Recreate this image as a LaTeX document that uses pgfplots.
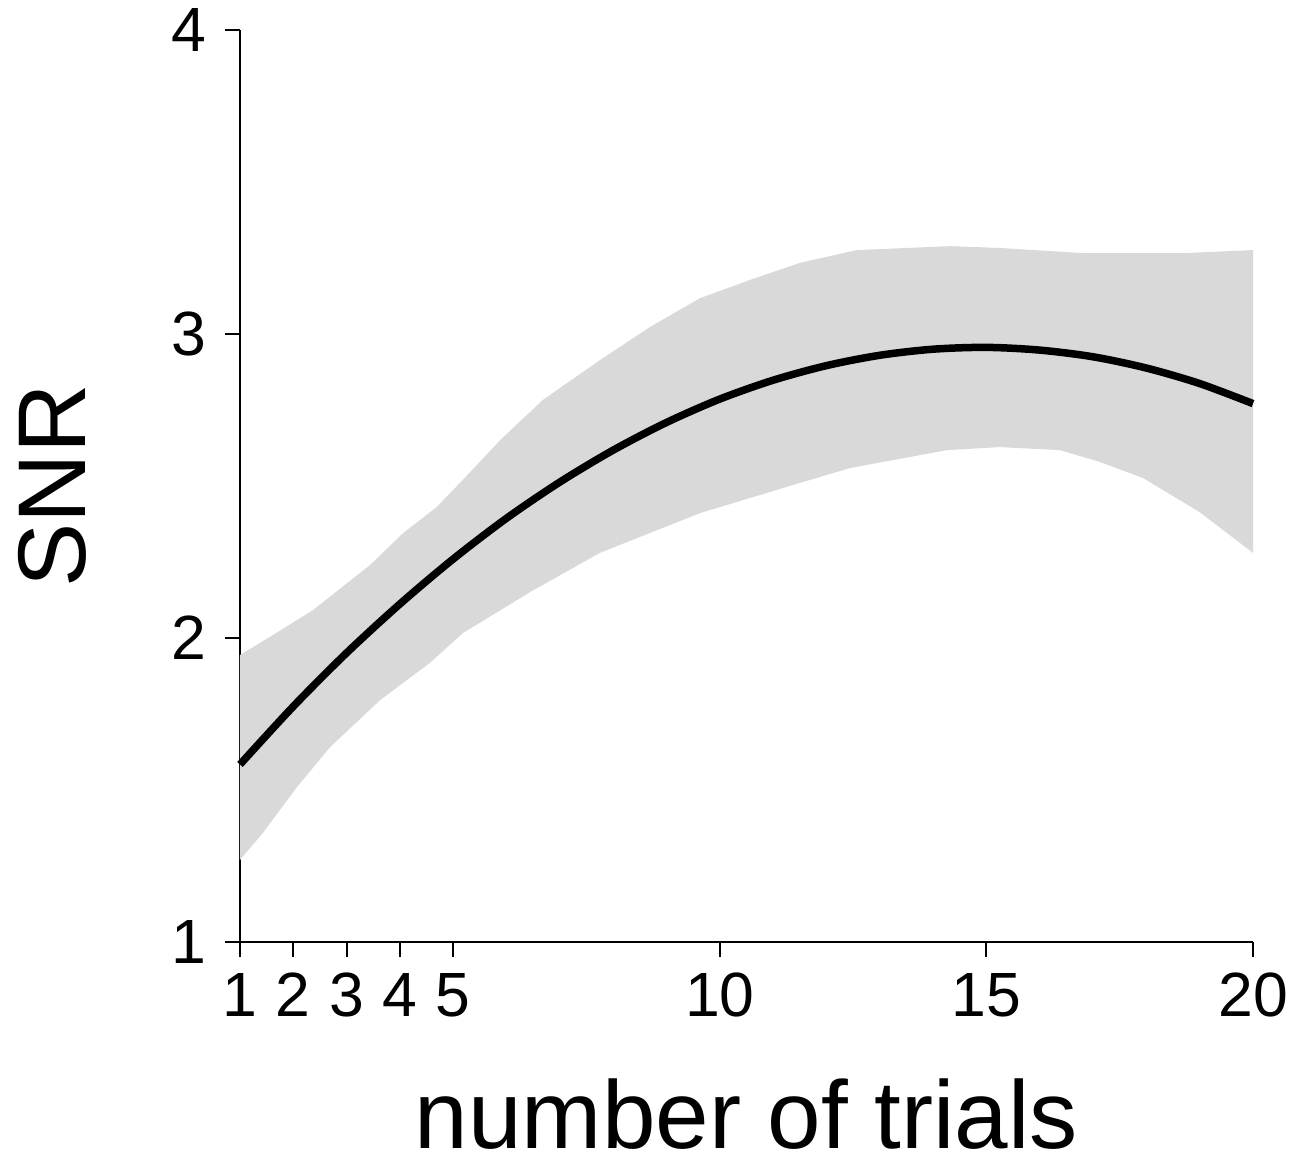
\documentclass[border=0pt]{standalone}
\usepackage{pgfplots}
\pgfplotsset{compat=1.18}
\usepackage{fontspec}
\setmainfont{Liberation Sans}
\definecolor{bandgray}{HTML}{D9D9D9}
\begin{document}
\begin{tikzpicture}
\useasboundingbox (-96pt,-91.2pt) rectangle (428pt,376.8pt);
\begin{axis}[
  scale only axis,
  width=405.2pt, height=364.8pt,
  xmin=1, xmax=20, ymin=1, ymax=4,
  axis x line*=bottom, axis y line*=left,
  axis line style={line width=0.8pt},
  xtick={1,2,3,4,5,10,15,20},
  ytick={1,2,3,4},
  tick align=outside,
  major tick length=6pt,
  tick style={line width=0.8pt, black},
  /pgf/number format/assume math mode=true,
  ticklabel style={font=\fontsize{25}{29}\selectfont},
  xticklabel style={yshift=-3pt},
  yticklabel style={xshift=-4pt},
  label style={font=\fontsize{38.5}{44}\selectfont, inner sep=0pt},
  xlabel={number of trials},
  ylabel={SNR},
  xlabel style={at={(axis description cs:0.5,-0.226)}, anchor=base},
  ylabel style={at={(axis description cs:-0.153,0.5)}, anchor=base, rotate=0},
  clip=false,
]
\addplot[fill=bandgray, draw=none] coordinates {
 (1.0,1.944) (1.62,2.01) (2.37,2.092) (3.44,2.24) (4.06,2.345) (4.69,2.431)
 (5.18,2.52) (5.88,2.651) (6.68,2.783) (7.75,2.914) (8.69,3.023) (9.63,3.118)
 (10.57,3.178) (11.50,3.234) (12.57,3.276) (14.32,3.289) (15.25,3.283)
 (16.81,3.266) (18.69,3.266) (20,3.276)
 (20,2.28) (19.0,2.414) (17.94,2.526) (17.13,2.579) (16.38,2.618) (15.25,2.628)
 (14.26,2.618) (12.44,2.559) (11.50,2.51) (9.63,2.411) (7.75,2.28) (6.44,2.151)
 (5.18,2.016) (4.56,1.918) (3.63,1.796) (2.69,1.641) (2.07,1.51) (1.43,1.359)
 (1.0,1.27)
} -- cycle;
\addplot[black, line width=3pt, smooth] coordinates {
 (1,1.584) (2,1.775) (3,1.951) (4,2.112) (5,2.260) (6,2.394) (7,2.513) (8,2.618)
 (9,2.709) (10,2.786) (11,2.848) (12,2.896) (13,2.930) (14,2.950) (15,2.956)
 (16,2.947) (17,2.925) (18,2.888) (19,2.837) (20,2.771)
};
\end{axis}
\end{tikzpicture}
\end{document}
